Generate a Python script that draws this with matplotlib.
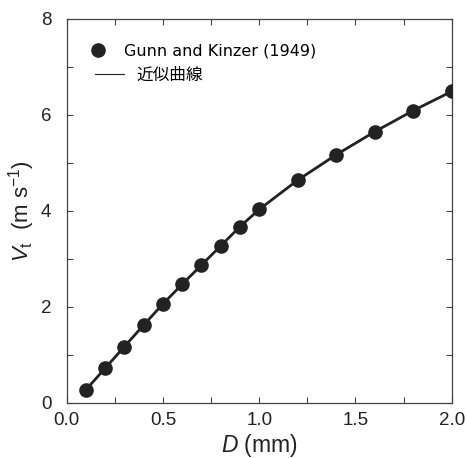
import matplotlib
matplotlib.use("Agg")
import matplotlib.pyplot as plt
from matplotlib.lines import Line2D
from matplotlib.ticker import MultipleLocator

diameter_mm = [0.1, 0.2, 0.3, 0.4, 0.5, 0.6, 0.7, 0.8, 0.9, 1.0, 1.2, 1.4, 1.6, 1.8, 2.0]
velocity = [0.27, 0.72, 1.17, 1.62, 2.06, 2.47, 2.87, 3.27, 3.67, 4.03, 4.64, 5.17, 5.65, 6.09, 6.49]
x_ticks = [0.0, 0.5, 1.0, 1.5, 2.0]
y_ticks = [0, 2, 4, 6, 8]
label_points = "Gunn and Kinzer (1949)"
label_curve = "近似曲線"

plt.rcParams['font.family'] = ['Liberation Sans', 'Noto Sans CJK JP']
plt.rcParams['mathtext.fontset'] = 'custom'
plt.rcParams['mathtext.it'] = 'Liberation Sans:italic'
plt.rcParams['mathtext.rm'] = 'Liberation Sans'

W, H = 466, 458
fig = plt.figure(figsize=(W / 100, H / 100), dpi=100)
ax = fig.add_axes([66.7 / W, 1 - 402.7 / H, 385 / W, 383.7 / H])

fc = '#222222'
ax.plot(diameter_mm, velocity, color=fc, lw=2.0, zorder=2)
ax.plot(diameter_mm, velocity, 'o', color=fc, ms=9.5, zorder=3)

ax.set_xlim(0, 2.0)
ax.set_ylim(0, 8)
ax.set_xticks(x_ticks)
ax.set_yticks(y_ticks)
ax.set_xticklabels([f"{v:.1f}" for v in x_ticks])
ax.set_yticklabels([str(v) for v in y_ticks])
ax.xaxis.set_minor_locator(MultipleLocator(0.25))
ax.yaxis.set_minor_locator(MultipleLocator(1))
ax.tick_params(which='both', direction='in', top=True, right=True,
               length=4, width=0.8, color='#444444', labelsize=13.5,
               labelcolor='#222222')
ax.tick_params(axis='x', which='both', pad=7)
ax.tick_params(axis='y', which='both', pad=11)
for s in ax.spines.values():
    s.set_color('#444444')
    s.set_linewidth(0.9)

ax.set_xlabel(r"$D$ (mm)", fontsize=16.5, color='#222222', labelpad=2)
ax.set_ylabel(r"$V_{\rm t}$  (m s$^{-1}$)", fontsize=16, color='#222222', labelpad=3)

prop1 = {'family': 'DejaVu Sans', 'size': 11.5}
prop2 = {'family': 'Noto Sans CJK JP', 'size': 12}
fs1 = 11.5 * 100 / 72
fs2 = 12 * 100 / 72

h_pts = Line2D([], [], marker='o', color=fc, ls='none', ms=9.5)
leg1 = ax.legend([h_pts], [label_points], loc='center left', frameon=False,
                 prop=prop1, handlelength=16 / fs1, handletextpad=18 / fs1,
                 borderpad=0, borderaxespad=0,
                 bbox_to_anchor=(90 / W, 1 - 50.7 / H), bbox_transform=fig.transFigure)
ax.add_artist(leg1)

h_line = Line2D([], [], color=fc, lw=0.8)
leg2 = ax.legend([h_line], [label_curve], loc='center left', frameon=False,
                 prop=prop2, handlelength=29 / fs2, handletextpad=13 / fs2,
                 borderpad=0, borderaxespad=0,
                 bbox_to_anchor=(94.5 / W, 1 - 75 / H), bbox_transform=fig.transFigure)

fig.savefig("out.png", dpi=100, facecolor='white')
